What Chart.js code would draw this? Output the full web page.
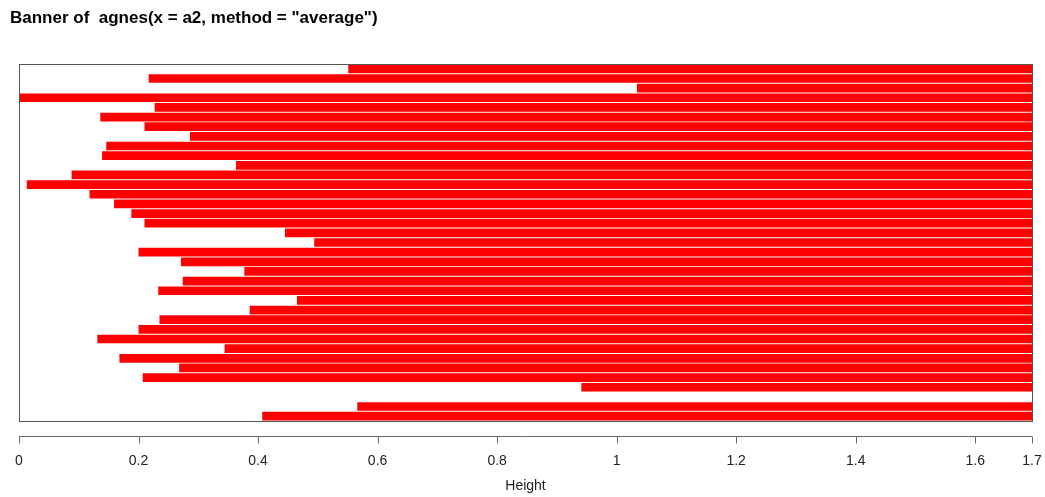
<!DOCTYPE html>
<html>
<head>
<meta charset="utf-8">
<script src="https://cdn.jsdelivr.net/npm/chart.js@4/dist/chart.umd.min.js"></script>
<style>
  html, body { margin: 0; padding: 0; background: #fff; }
  #wrap { width: 1045px; height: 497px; position: relative; }
</style>
</head>
<body>
<div id="wrap"><canvas id="banner"></canvas></div>
<script>
  // merge heights between neighbouring observations, top to bottom
  const rows = [];
  const mergeHeights = [
    0.551, 0.217, 1.034, 0.001, 0.227, 0.136, 0.210, 0.286, 0.146, 0.139,
    0.363, 0.088, 0.013, 0.118, 0.159, 0.188, 0.210, 0.445, 0.494, 0.200,
    0.271, 0.377, 0.274, 0.233, 0.465, 0.386, 0.235, 0.200, 0.131, 0.344,
    0.168, 0.268, 0.207, 0.941, 1.695, 0.566, 0.407
  ];
  const maxHeight = 1.695;
  const tickValues = [0, 0.2, 0.4, 0.6, 0.8, 1.0, 1.2, 1.4, 1.6, maxHeight];
  const tickLabels = ['0', '0.2', '0.4', '0.6', '0.8', '1', '1.2', '1.4', '1.6', '1.7'];

  for (let i = 0; i < mergeHeights.length; i++) rows.push(String(i + 1));

  const FONT = "'Liberation Sans', Arial, sans-serif";

  // box around the banner plus the detached R-style axis underneath
  const frame = {
    id: 'frame',
    afterDraw(chart) {
      const ctx = chart.ctx;
      const a = chart.chartArea;
      const x = chart.scales.x;
      ctx.save();
      ctx.strokeStyle = '#555';
      ctx.lineWidth = 1;
      ctx.strokeRect(Math.round(a.left) + 0.5, Math.round(a.top) + 0.5,
        Math.round(a.right - a.left), Math.round(a.bottom - a.top));

      const axisY = Math.round(a.bottom) + 15.5;
      ctx.strokeStyle = '#666';
      ctx.beginPath();
      ctx.moveTo(x.getPixelForValue(0), axisY);
      ctx.lineTo(x.getPixelForValue(maxHeight), axisY);
      tickValues.forEach(function (v) {
        const px = Math.round(x.getPixelForValue(v)) + 0.5;
        ctx.moveTo(px, axisY);
        ctx.lineTo(px, axisY + 7);
      });
      ctx.stroke();
      ctx.restore();
    }
  };

  new Chart(document.getElementById('banner'), {
    type: 'bar',
    data: {
      labels: rows,
      datasets: [{
        data: mergeHeights.map(function (h) { return [h, maxHeight]; }),
        backgroundColor: '#ff0000',
        borderWidth: 0,
        categoryPercentage: 1,
        barPercentage: 0.9
      }]
    },
    options: {
      indexAxis: 'y',
      responsive: true,
      maintainAspectRatio: false,
      animation: false,
      layout: { padding: { left: 10, right: 13, top: 0, bottom: 0 } },
      scales: {
        y: {
          offset: true,
          ticks: { display: false },
          grid: { display: false },
          border: { display: false },
          afterFit: function (scale) { scale.width = 9; }
        },
        x: {
          min: 0,
          max: maxHeight,
          afterBuildTicks: function (scale) {
            scale.ticks = tickValues.map(function (v) { return { value: v }; });
          },
          afterFit: function (scale) {
            scale.height = 76;
            scale.paddingLeft = 0;
            scale.paddingRight = 0;
          },
          grid: { display: false, drawTicks: false },
          border: { display: false },
          ticks: {
            padding: 32,
            autoSkip: false,
            maxRotation: 0,
            color: '#222',
            font: { family: FONT, size: 14 },
            callback: function (value, index) { return tickLabels[index]; }
          },
          title: {
            display: true,
            text: 'Height',
            color: '#222',
            font: { family: FONT, size: 14 },
            padding: { top: 4, bottom: 2.6 }
          }
        }
      },
      plugins: {
        legend: { display: false },
        tooltip: { enabled: false },
        title: {
          display: true,
          text: 'Banner of  agnes(x = a2, method = "average")',
          align: 'start',
          color: '#000',
          font: { family: FONT, size: 17, weight: 'bold' },
          padding: { top: 7.8, bottom: 35.8 }
        }
      }
    },
    plugins: [frame]
  });
</script>
</body>
</html>
